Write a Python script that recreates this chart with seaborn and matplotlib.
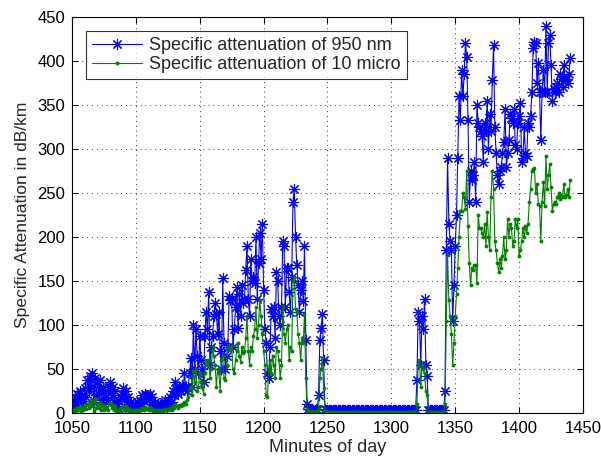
import numpy as np
import pandas as pd
import matplotlib
matplotlib.use("Agg")
import matplotlib.pyplot as plt
import seaborn as sns

# Minutes of the day, one sample per minute
minutes = np.arange(1050, 1441)

# Specific attenuation at 950 nm (dB/km), split into time segments
att950_early = [
    12, 5, 18, 10, 22, 15, 25, 8, 20, 14,
    28, 18, 38, 25, 42, 30, 45, 12, 40, 20,
    35, 22, 38, 15, 30, 10, 25, 18, 12, 30,
    35, 20, 30, 12, 25, 8, 15, 5, 18, 22,
    28, 15, 25, 10, 18, 6, 12, 5, 8, 10,
    6, 12, 8, 15, 10, 20, 14, 22, 18, 20,
    15, 22, 10, 18, 8, 12, 6, 10, 5, 8,
    10, 6, 12, 15, 8, 14, 10, 18, 12, 25,
    20, 35, 28, 22, 30, 25, 32, 28, 45, 30,
]
att950_evening = [
    25, 30, 45, 62, 30, 100, 50, 95, 65, 45,
    88, 60, 50, 35, 88, 115, 95, 137, 55, 75,
    87, 110, 125, 113, 90, 115, 70, 50, 153, 80,
    50, 65, 75, 133, 128, 130, 75, 95, 120, 143,
    97, 135, 110, 145, 125, 130, 163, 190, 130, 110,
    175, 150, 155, 148, 200, 130, 170, 205, 175, 215,
    140, 95, 80, 45, 40, 75, 118, 110, 120, 85,
    160, 150, 110, 100, 120, 195, 190, 120, 165, 165,
    137, 115, 155, 240, 255, 200, 168, 145, 115, 140,
    150, 127, 190, 83, 10, 5, 4, 3, 4, 3,
    4, 5, 3, 20, 83, 97, 112, 60, 5,
]
att950_clear = [
    3, 3, 3, 3, 3, 3, 3, 3, 3, 3,
    3, 3, 3, 3, 3, 3, 3, 3, 3, 3,
    3, 3, 3, 3, 3, 3, 3, 3, 3, 3,
    3, 3, 3, 3, 3, 3, 3, 3, 3, 3,
    3, 3, 3, 3, 3, 3, 3, 3, 3, 3,
    3, 3, 3, 3, 3, 3, 3, 3, 3, 3,
    3, 3, 3, 3, 3, 3, 3, 3, 3, 3,
    3,
    37, 115, 105, 55, 110, 95, 130, 55, 42,
    3, 3, 3, 3, 3, 3, 3, 3, 3, 3, 3, 3, 3,
]
att950_night = [
    25, 185, 290, 215, 195, 185, 105, 145,
    190, 225, 290, 360, 333, 390, 360, 385, 420, 405,
    333, 240, 275, 265, 270, 285, 240, 350, 330, 325,
    320, 315, 285, 330, 320, 355, 300, 340, 320, 378,
    418, 325, 295, 270, 260, 275, 280, 295, 308, 345,
    280, 295, 310, 340, 335, 330, 345, 305, 300, 330,
    338, 352, 285, 290, 325, 295, 292, 330, 325, 338,
    365, 415, 422, 420, 375, 398, 365, 310, 365, 390,
    365, 440, 365, 420, 430, 395, 355, 368, 365, 370,
    375, 365, 385, 380, 370, 395, 378, 380, 375, 385,
    403,
]

# Specific attenuation at 10 micron (dB/km), same segments
att10_early = [
    3, 1, 5, 2, 6, 4, 8, 2, 6, 4,
    8, 5, 10, 6, 12, 8, 14, 2, 16, 6,
    10, 6, 12, 4, 9, 3, 8, 5, 3, 10,
    11, 6, 9, 3, 8, 2, 4, 1, 6, 7,
    8, 4, 8, 3, 6, 2, 4, 1, 3, 3,
    2, 3, 2, 5, 3, 6, 4, 7, 5, 6,
    4, 7, 3, 5, 2, 4, 2, 3, 1, 2,
    3, 2, 4, 5, 3, 5, 3, 6, 4, 8,
    6, 10, 8, 6, 9, 8, 10, 9, 12, 10,
]
att10_evening = [
    15, 18, 28, 30, 20, 48, 35, 50, 25, 30,
    45, 35, 30, 22, 45, 60, 55, 60, 40, 50,
    75, 65, 55, 30, 50, 45, 25, 60, 65, 40,
    38, 55, 75, 75, 72, 76, 50, 45, 60, 70,
    80, 65, 58, 75, 68, 70, 85, 110, 70, 55,
    75, 70, 88, 95, 120, 85, 100, 128, 110, 90,
    70, 55, 20, 18, 50, 60, 45, 65, 55, 40,
    75, 70, 60, 40, 55, 120, 90, 80, 95, 100,
    60, 75, 70, 150, 155, 118, 115, 90, 80, 60,
    85, 80, 112, 40, 5, 2, 1, 1, 2, 1,
    1, 2, 1, 5, 40, 50, 62, 28, 2,
]
att10_clear = [
    1, 1, 1, 1, 1, 1, 1, 1, 1, 1,
    1, 1, 1, 1, 1, 1, 1, 1, 1, 1,
    1, 1, 1, 1, 1, 1, 1, 1, 1, 1,
    1, 1, 1, 1, 1, 1, 1, 1, 1, 1,
    1, 1, 1, 1, 1, 1, 1, 1, 1, 1,
    1, 1, 1, 1, 1, 1, 1, 1, 1, 1,
    1, 1, 1, 1, 1, 1, 1, 1, 1, 1,
    1,
    10, 55, 60, 30, 55, 50, 45, 25, 20,
    1, 1, 1, 1, 1, 1, 1, 1, 1, 1, 1, 1, 1,
]
att10_night = [
    10, 105, 180, 128, 110, 90, 55, 80,
    110, 135, 165, 200, 230, 230, 250, 245, 232, 275,
    212, 170, 145, 165, 162, 168, 168, 148, 225, 210,
    210, 205, 200, 215, 190, 228, 200, 185, 245, 275,
    255, 195, 185, 170, 160, 175, 165, 178, 200, 175,
    185, 220, 200, 215, 210, 190, 195, 220, 210, 220,
    178, 185, 195, 210, 200, 212, 205, 215, 240, 255,
    275, 277, 278, 250, 260, 238, 235, 195, 240, 262,
    235, 292, 255, 270, 283, 257, 230, 238, 240, 238,
    245, 250, 243, 248, 245, 260, 245, 248, 255, 245,
    265,
]

label_950 = "Specific attenuation of 950 nm"
label_10 = "Specific attenuation of 10 micro"

att950 = att950_early + att950_evening + att950_clear + att950_night
att10 = att10_early + att10_evening + att10_clear + att10_night

df = pd.DataFrame({"minute": minutes, "a950": att950, "a10": att10})

sns.set_style("white")
plt.rcParams["font.family"] = ["Liberation Sans", "DejaVu Sans"]

fig = plt.figure(figsize=(6.01, 4.61), dpi=100)
ax = fig.add_axes([0.1198, 0.104, 0.8502, 0.859])

blue = (0, 0, 1)
green = (0, 0.5, 0)

# 8-armed asterisk marker for the 950 nm series
sns.lineplot(data=df, x="minute", y="a950", ax=ax, color=blue,
             marker=(8, 2, 0), markersize=8, markeredgecolor=blue,
             markeredgewidth=0.8, linewidth=0.8, label=label_950,
             estimator=None)
sns.lineplot(data=df, x="minute", y="a10", ax=ax, color=green,
             marker=".", markersize=4, markeredgecolor=green,
             linewidth=0.8, label=label_10, estimator=None)

ax.set_xlim(1050, 1450)
ax.set_ylim(0, 450)
ax.set_xticks(np.arange(1050, 1451, 50))
ax.set_yticks(np.arange(0, 451, 50))
ax.grid(True, linestyle=(0, (1, 4)), color="0.2", linewidth=0.7)
ax.tick_params(direction="in", length=4, labelsize=12, colors="black",
               top=True, right=True, bottom=True, left=True)
ax.tick_params(axis="x", pad=6)
ax.tick_params(axis="y", pad=5)
for sp in ax.spines.values():
    sp.set_color("black")
    sp.set_linewidth(0.8)
ax.set_xlabel("Minutes of day", fontsize=13, labelpad=2)
ax.set_ylabel("Specific Attenuation in dB/km", fontsize=12.6, labelpad=5)

leg = ax.legend(loc="upper left", fontsize=13, frameon=True, fancybox=False,
                edgecolor="black", borderpad=0.35, handlelength=2.8,
                labelspacing=0.12, borderaxespad=0.75, handletextpad=0.35)
leg.get_frame().set_linewidth(0.8)

fig.savefig("out.png", dpi=100)
